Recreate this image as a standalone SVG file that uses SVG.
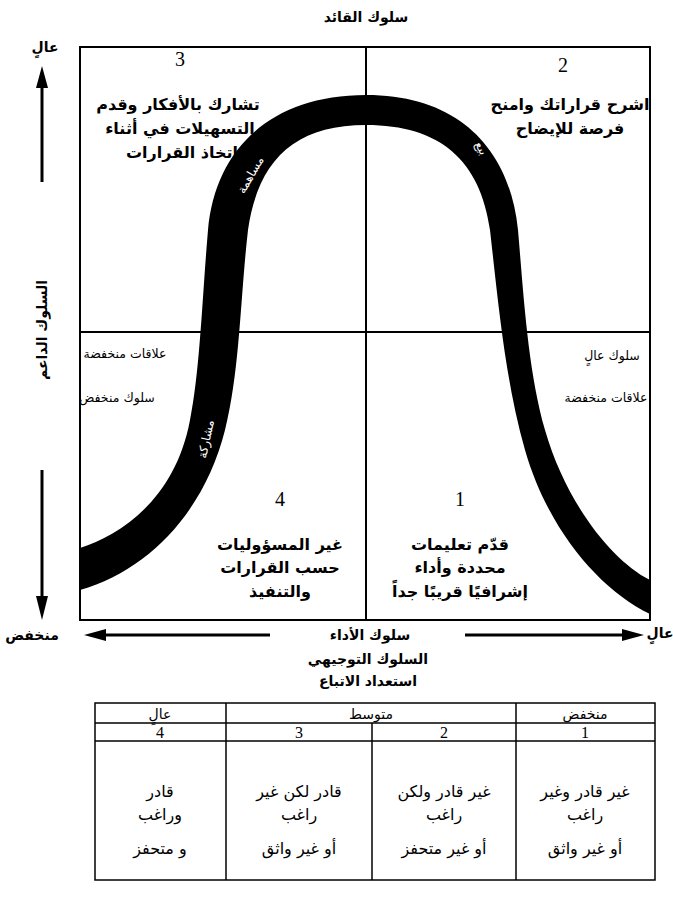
<svg xmlns="http://www.w3.org/2000/svg" width="673" height="898" viewBox="0 0 673 898">
<style>
.t{font-family:"DejaVu Sans","Noto Sans",sans-serif;fill:#000;text-anchor:middle}
.q{font-size:16px;font-weight:bold}
.m{font-size:14px}
.c{font-size:16px}
.b{font-weight:bold}
.s{font-size:12.5px}
.n{font-family:"Liberation Serif",serif;font-size:20px;fill:#000;text-anchor:middle}
.w{font-family:"DejaVu Sans",sans-serif;font-size:12px;fill:#fff;text-anchor:middle}
.ln{stroke:#000;stroke-width:2;fill:none}
.ar{stroke:#000;stroke-width:3;fill:none}
.tb{stroke:#000;stroke-width:1.5;fill:none}
</style>
<rect width="673" height="898" fill="#fff"/>
<text class="t m b" x="366" y="22">سلوك القائد</text>

<g id="frame">
<rect class="ln" x="80" y="47" width="570" height="573"/>
<line class="ln" x1="366" y1="47" x2="366" y2="620"/>
<line class="ln" x1="80" y1="332" x2="650" y2="332"/>
</g>

<g id="curve">
<path fill="#000" d="M80,548 C120,535 175,500 190,420 C200,370 202,300 208,230 C215,150 270,95 366,95 C460,95 510,150 518,230 C524,300 528,370 545,430 C565,500 610,560 650,580 L650,614 C600,590 548,530 525,450 C505,380 498,300 490,230 C480,160 440,125 366,125 C295,125 258,160 248,230 C240,300 240,370 225,430 C205,510 150,570 80,590 Z"/>
<text class="w" transform="translate(254,177) rotate(-60)">مساهمة</text>
<text class="w" transform="translate(478,150) rotate(62)">بيع</text>
<text class="w" transform="translate(210,440) rotate(-78)">مشاركة</text>
<text class="w" transform="translate(500,470) rotate(62)">إخبار</text>
</g>

<g id="q3">
<text class="n" x="180" y="66">3</text>
<text class="t q" x="178" y="110">تشارك بالأفكار وقدم</text>
<text class="t q" x="180" y="134">التسهيلات في أثناء</text>
<text class="t q" x="182" y="158">اتخاذ القرارات</text>
</g>
<g id="q2">
<text class="n" x="563" y="72">2</text>
<text class="t q" x="570" y="110">اشرح قراراتك وامنح</text>
<text class="t q" x="570" y="134">فرصة للإيضاح</text>
</g>
<g id="q4">
<text class="t s" x="125" y="358">علاقات منخفضة</text>
<text class="t s" x="117" y="402">سلوك منخفض</text>
<text class="n" x="280" y="506">4</text>
<text class="t q" x="280" y="550">غير المسؤوليات</text>
<text class="t q" x="280" y="573">حسب القرارات</text>
<text class="t q" x="280" y="597">والتنفيذ</text>
</g>
<g id="q1">
<text class="t s" x="612" y="360">سلوك عالٍ</text>
<text class="t s" x="606" y="402">علاقات منخفضة</text>
<text class="n" x="460" y="506">1</text>
<text class="t q" x="460" y="550">قدّم تعليمات</text>
<text class="t q" x="460" y="573">محددة وأداء</text>
<text class="t q" x="460" y="597">إشرافيًا قريبًا جداً</text>
</g>

<g id="axes">
<text class="t m b" x="45" y="52">عالٍ</text>
<line class="ar" x1="42" y1="182" x2="42" y2="85"/>
<polygon points="42,66 36,88 48,88" fill="#000"/>
<text class="t m b" transform="translate(47,330) rotate(-90)">السلوك الداعم</text>
<line class="ar" x1="42" y1="470" x2="42" y2="600"/>
<polygon points="42,620 36,596 48,596" fill="#000"/>
<text class="t m b" x="32" y="640">منخفض</text>
<line class="ar" x1="270" y1="635" x2="100" y2="635"/>
<polygon points="84,635 106,629 106,641" fill="#000"/>
<text class="t m b" x="370" y="640">سلوك الأداء</text>
<line class="ar" x1="465" y1="635" x2="625" y2="635"/>
<polygon points="644,635 622,629 622,641" fill="#000"/>
<text class="t m b" x="660" y="638">عالٍ</text>
<text class="t m b" x="368" y="664">السلوك التوجيهي</text>
<text class="t m b" x="368" y="686">استعداد الاتباع</text>
</g>

<g id="table">
<rect class="tb" x="95" y="703" width="560" height="177"/>
<line class="tb" x1="95" y1="723" x2="655" y2="723"/>
<line class="tb" x1="95" y1="741" x2="655" y2="741"/>
<line class="tb" x1="226" y1="703" x2="226" y2="880"/>
<line class="tb" x1="372" y1="723" x2="372" y2="880"/>
<line class="tb" x1="516" y1="703" x2="516" y2="880"/>
<text class="t m" x="160" y="719">عالٍ</text>
<text class="t m" x="371" y="719">متوسط</text>
<text class="t m" x="585" y="719">منخفض</text>
<text class="n" style="font-size:16px" x="160" y="738">4</text>
<text class="n" style="font-size:16px" x="299" y="738">3</text>
<text class="n" style="font-size:16px" x="444" y="738">2</text>
<text class="n" style="font-size:16px" x="585" y="738">1</text>
<text class="t c" x="160" y="797">قادر</text>
<text class="t c" x="160" y="820">وراغب</text>
<text class="t c" x="160" y="854">و متحفز</text>
<text class="t c" x="299" y="797">قادر لكن غير</text>
<text class="t c" x="299" y="820">راغب</text>
<text class="t c" x="299" y="854">أو غير واثق</text>
<text class="t c" x="444" y="797">غير قادر ولكن</text>
<text class="t c" x="444" y="820">راغب</text>
<text class="t c" x="444" y="854">أو غير متحفز</text>
<text class="t c" x="585" y="797">غير قادر وغير</text>
<text class="t c" x="585" y="820">راغب</text>
<text class="t c" x="585" y="854">أو غير واثق</text>
</g>
</svg>
